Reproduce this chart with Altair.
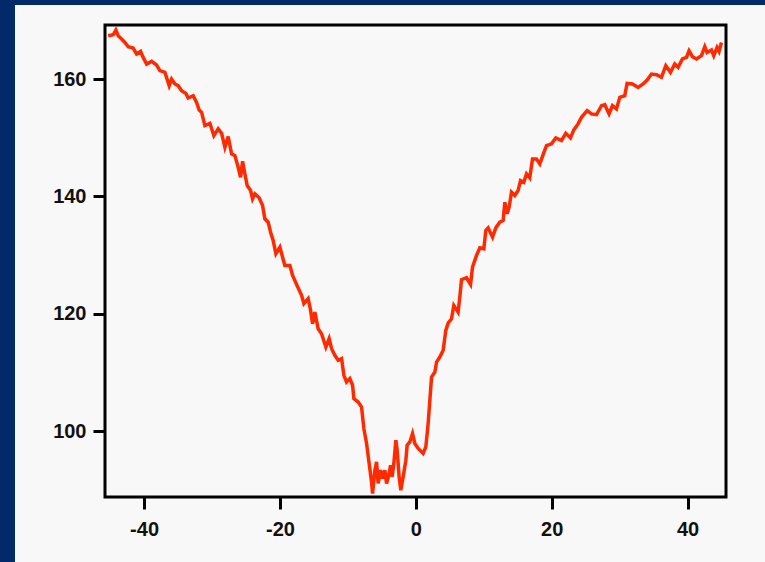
import altair as alt
import pandas as pd

# values
xs = [-45.28, -44.54, -44.15, -43.81, -43.31, -42.82, -42.33, -41.60, -41.10, -40.51,
      -40.13, -39.63, -38.89, -38.16, -37.67, -36.93, -36.30, -35.95, -35.46, -34.98,
      -34.48, -33.84, -33.51, -32.77, -32.27, -31.89, -31.53, -31.05, -30.31, -29.72,
      -29.09, -28.59, -28.10, -27.62, -27.12, -26.63, -26.15, -25.80, -25.50, -25.16,
      -24.82, -24.32, -24.03, -23.69, -23.06, -22.56, -22.22, -21.73, -21.38, -21.00,
      -20.60, -20.01, -19.61, -19.28, -18.54, -18.14, -17.55, -16.82, -16.48, -15.85,
      -15.49, -15.20, -14.86, -14.38, -13.88, -13.24, -12.76, -12.40, -11.92, -11.43,
      -10.93, -10.59, -10.20, -9.71, -9.31, -9.12, -8.49, -7.99, -7.65, -7.25,
      -6.87, -6.52, -6.37, -6.03, -5.78, -5.55, -5.19, -4.90, -4.56, -4.31,
      -3.93, -3.72, -3.49, -3.24, -2.94, -2.75, -2.46, -2.21, -1.87, -1.47,
      -1.28, -0.88, -0.49, -0.15, 0.34, 1.07, 1.47, 1.81, 2.06, 2.31,
      2.80, 3.05, 3.53, 4.02, 4.41, 4.75, 5.25, 5.59, 6.22, 6.47,
      6.72, 7.46, 8.05, 8.34, 8.93, 9.42, 10.01, 10.30, 10.64, 11.29,
      11.77, 12.36, 12.85, 13.10, 13.43, 13.73, 14.08, 14.57, 15.05, 15.41,
      15.89, 16.29, 16.77, 17.17, 17.76, 18.25, 18.73, 19.23, 19.97, 20.60,
      21.44, 22.07, 22.76, 23.25, 23.88, 24.38, 25.21, 25.85, 26.59, 27.33,
      27.81, 28.44, 28.94, 29.53, 30.02, 30.75, 31.09, 31.89, 32.71, 33.45,
      34.04, 34.68, 35.42, 36.15, 36.79, 37.48, 38.11, 38.60, 39.24, 39.83,
      40.21, 40.72, 41.30, 42.04, 42.53, 42.86, 43.51, 43.85, 44.33, 44.63,
      44.98]
ys = [167.37, 167.54, 168.34, 167.37, 166.81, 166.23, 165.50, 165.28, 164.26, 164.70,
      163.68, 162.55, 163.00, 162.38, 161.42, 161.13, 158.86, 160.00, 159.15, 158.86,
      158.01, 157.55, 156.77, 157.16, 156.02, 154.73, 154.32, 152.06, 152.45, 150.36,
      151.50, 150.75, 148.37, 150.19, 147.24, 146.95, 144.96, 143.26, 145.99, 143.84,
      141.85, 141.00, 139.59, 140.44, 139.76, 138.45, 136.19, 135.61, 133.91, 132.49,
      130.23, 131.35, 129.65, 128.24, 128.24, 126.54, 125.01, 123.14, 121.73, 122.58,
      120.59, 118.32, 120.30, 117.47, 116.62, 114.34, 115.77, 114.07, 112.93, 112.08,
      112.37, 109.53, 108.39, 108.97, 107.83, 105.56, 104.98, 104.13, 100.46, 97.91,
      94.50, 91.37, 89.40, 93.37, 94.78, 91.10, 93.37, 91.95, 93.37, 91.10,
      92.80, 94.22, 92.23, 94.50, 98.47, 96.77, 92.23, 89.96, 92.23, 95.07,
      97.62, 98.18, 99.61, 97.91, 97.06, 96.21, 97.33, 101.31, 105.27, 109.24,
      110.09, 111.79, 112.64, 113.78, 117.18, 118.42, 119.17, 121.44, 120.30, 122.85,
      125.81, 126.15, 125.01, 127.95, 129.94, 131.25, 131.08, 134.20, 134.65, 133.06,
      134.65, 135.61, 135.90, 139.01, 137.04, 138.16, 140.71, 140.15, 141.00, 142.70,
      142.41, 143.84, 143.16, 146.39, 146.39, 145.54, 147.12, 148.66, 148.95, 149.97,
      149.51, 150.75, 149.97, 151.33, 152.35, 153.47, 154.61, 154.05, 153.93, 155.46,
      155.63, 154.05, 155.46, 154.90, 156.87, 157.16, 159.25, 159.15, 158.57, 159.15,
      159.83, 160.85, 160.73, 160.28, 162.27, 161.13, 162.55, 161.98, 163.41, 163.68,
      164.82, 163.80, 163.41, 163.97, 165.50, 164.53, 164.94, 163.97, 165.38, 164.70,
      166.23]
x_ticks = [-40, -20, 0, 20, 40]
y_ticks = [100, 120, 140, 160]

df = pd.DataFrame({"x": xs, "y": ys})

W, H = 621, 472
PL, PT, PR, PB = 105, 25, 39, 65
BLUE = "#022a6a"

label_expr = "datum.value < 0 ? '-' + abs(datum.value) : '' + datum.value"

line = alt.Chart(df).mark_line(color="#ff2a00", strokeWidth=3.5, clip=True,
                               strokeJoin="miter").encode(
    x=alt.X("x:Q", scale=alt.Scale(domain=[-45.75, 45.65], nice=False, zero=False),
            axis=alt.Axis(values=x_ticks, title=None, grid=False, domain=False,
                          tickSize=12, tickWidth=3, tickColor="black",
                          labelFont="Liberation Sans", labelFontWeight="bold",
                          labelFontSize=20, labelColor="#111111", labelPadding=10,
                          labelExpr=label_expr, zindex=1)),
    y=alt.Y("y:Q", scale=alt.Scale(domain=[88.8, 169.2], nice=False, zero=False),
            axis=alt.Axis(values=y_ticks, title=None, grid=False, domain=False,
                          tickSize=12, tickWidth=3, tickColor="black",
                          labelFont="Liberation Sans", labelFontWeight="bold",
                          labelFontSize=20, labelColor="#111111", labelPadding=7,
                          zindex=1)),
)

band = alt.Data(values=[{"k": 1}])
left_band = alt.Chart(band).mark_rect(color=BLUE).encode(
    x=alt.value(-PL), x2=alt.value(-PL + 15), y=alt.value(-PT), y2=alt.value(H + PB)
)
top_band = alt.Chart(band).mark_rect(color=BLUE).encode(
    x=alt.value(-PL), x2=alt.value(W + PR), y=alt.value(-PT), y2=alt.value(-PT + 5)
)

chart = alt.layer(left_band, top_band, line).properties(
    width=W, height=H,
    autosize=alt.AutoSizeParams(type="none"),
    padding={"left": PL, "top": PT, "right": PR, "bottom": PB},
    background="#f8f8f8",
).configure_view(stroke="black", strokeWidth=3, fill="#f8f8f8")

chart.save("out.html", embed_options={"renderer": "svg", "actions": False})
